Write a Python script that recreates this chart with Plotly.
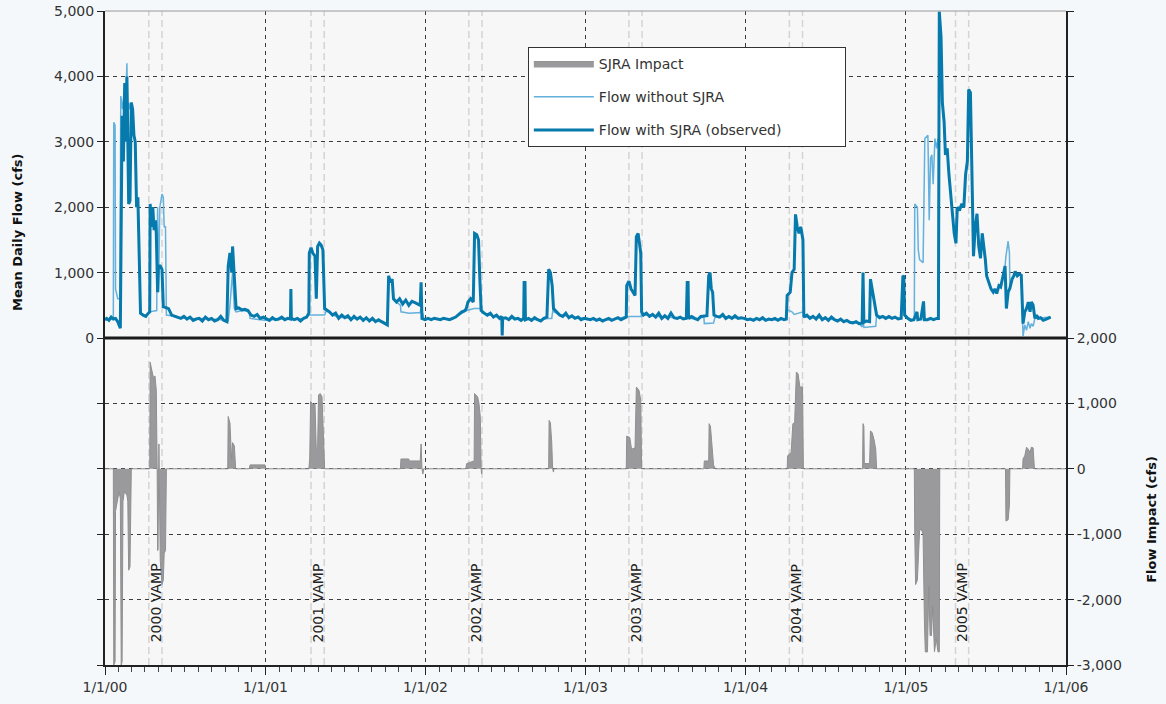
import plotly.graph_objects as go
import pandas as pd

# ---------------- data ----------------
OBSERVED = [
    ("2000-01-01",280),("2000-01-05",300),("2000-01-10",270),("2000-01-15",320),("2000-01-20",290),
    ("2000-01-25",300),("2000-01-30",250),("2000-02-05",150),("2000-02-09",3400),("2000-02-12",2700),
    ("2000-02-15",3900),("2000-02-18",3000),("2000-02-20",4000),("2000-02-22",3100),("2000-02-24",2050),
    ("2000-02-27",2100),("2000-03-01",3600),("2000-03-04",3500),("2000-03-07",3100),("2000-03-10",3000),
    ("2000-03-13",2000),("2000-03-16",2150),("2000-03-19",1300),("2000-03-22",380),("2000-03-28",350),
    ("2000-04-03",330),("2000-04-09",380),("2000-04-12",400),("2000-04-13",2050),("2000-04-16",1700),
    ("2000-04-19",2000),("2000-04-22",1650),("2000-04-25",1800),("2000-04-27",1600),("2000-04-30",700),
    ("2000-05-02",1100),("2000-05-06",1100),("2000-05-10",1050),("2000-05-13",480),("2000-05-18",470),
    ("2000-05-25",450),("2000-06-01",350),("2000-06-08",330),("2000-06-15",320),("2000-06-22",300),
    ("2000-06-29",330),("2000-07-06",290),("2000-07-13",320),("2000-07-20",270),("2000-07-27",290),
    ("2000-08-03",300),("2000-08-10",260),("2000-08-17",320),("2000-08-24",280),("2000-08-31",300),
    ("2000-09-07",260),("2000-09-14",280),("2000-09-21",330),("2000-09-28",270),("2000-10-05",250),
    ("2000-10-08",1100),("2000-10-12",1300),("2000-10-16",1000),("2000-10-18",1400),("2000-10-22",800),
    ("2000-10-26",450),("2000-11-01",460),("2000-11-08",430),("2000-11-15",440),("2000-11-22",420),
    ("2000-11-29",350),("2000-12-06",330),("2000-12-13",360),("2000-12-20",300),("2000-12-27",320),
    ("2001-01-03",300),("2001-01-10",270),("2001-01-17",310),("2001-01-24",280),("2001-01-31",290),
    ("2001-02-07",320),("2001-02-14",280),("2001-02-21",300),("2001-02-27",290),("2001-02-28",750),
    ("2001-03-01",300),("2001-03-08",280),("2001-03-15",300),("2001-03-22",260),("2001-03-29",300),
    ("2001-04-05",320),("2001-04-10",380),("2001-04-11",1300),("2001-04-15",1380),("2001-04-19",1300),
    ("2001-04-24",1250),("2001-04-27",600),("2001-04-30",1400),("2001-05-04",1450),("2001-05-08",1420),
    ("2001-05-12",1350),("2001-05-16",450),("2001-05-20",430),("2001-05-27",400),("2001-06-03",350),
    ("2001-06-10",380),("2001-06-17",300),("2001-06-24",350),("2001-07-01",310),("2001-07-08",340),
    ("2001-07-15",280),("2001-07-22",330),("2001-07-29",290),("2001-08-05",320),("2001-08-12",270),
    ("2001-08-19",310),("2001-08-26",260),("2001-09-02",300),("2001-09-09",250),("2001-09-16",280),
    ("2001-09-23",250),("2001-09-30",220),("2001-10-06",200),("2001-10-09",950),("2001-10-13",850),
    ("2001-10-17",900),("2001-10-20",600),("2001-10-27",550),("2001-11-03",600),("2001-11-10",520),
    ("2001-11-17",580),("2001-11-24",500),("2001-12-01",560),("2001-12-08",540),("2001-12-15",520),
    ("2001-12-20",500),("2001-12-22",850),("2001-12-24",300),("2001-12-31",280),
    ("2002-01-07",300),("2002-01-14",280),("2002-01-21",300),("2002-01-28",290),("2002-02-04",280),
    ("2002-02-11",300),("2002-02-18",290),("2002-02-25",280),("2002-03-04",300),("2002-03-11",320),
    ("2002-03-18",360),("2002-03-25",400),("2002-04-01",420),("2002-04-04",450),("2002-04-08",550),
    ("2002-04-14",600),("2002-04-20",550),("2002-04-23",1600),("2002-04-28",1580),("2002-05-02",1500),
    ("2002-05-05",900),("2002-05-08",420),("2002-05-15",380),("2002-05-22",350),("2002-05-29",380),
    ("2002-06-05",320),("2002-06-12",350),("2002-06-19",300),("2002-06-24",330),("2002-06-25",40),
    ("2002-06-26",300),("2002-07-03",310),("2002-07-10",280),("2002-07-17",330),("2002-07-24",290),
    ("2002-07-31",300),("2002-08-07",270),("2002-08-13",300),("2002-08-14",850),("2002-08-16",850),
    ("2002-08-17",280),("2002-08-24",300),("2002-08-31",270),("2002-09-07",310),("2002-09-14",280),
    ("2002-09-21",260),("2002-09-28",300),("2002-10-05",320),("2002-10-09",1050),("2002-10-13",1000),
    ("2002-10-17",800),("2002-10-20",450),("2002-10-27",400),("2002-11-03",350),("2002-11-10",330),
    ("2002-11-17",380),("2002-11-24",310),("2002-12-01",340),("2002-12-08",300),("2002-12-15",320),
    ("2002-12-22",280),("2002-12-29",300),
    ("2003-01-05",290),("2003-01-12",280),("2003-01-19",300),("2003-01-26",270),("2003-02-02",290),
    ("2003-02-09",260),("2003-02-16",280),("2003-02-23",300),("2003-03-02",270),("2003-03-09",290),
    ("2003-03-16",310),("2003-03-23",280),("2003-03-30",300),("2003-04-04",320),("2003-04-05",800),
    ("2003-04-10",870),("2003-04-15",750),("2003-04-20",700),("2003-04-24",650),("2003-04-27",1550),
    ("2003-05-01",1600),("2003-05-04",1450),("2003-05-07",1300),("2003-05-09",400),("2003-05-13",350),
    ("2003-05-20",380),("2003-05-27",330),("2003-06-03",360),("2003-06-10",320),("2003-06-17",380),
    ("2003-06-24",300),("2003-07-01",340),("2003-07-08",300),("2003-07-15",380),("2003-07-22",310),
    ("2003-07-29",300),("2003-08-05",320),("2003-08-12",290),("2003-08-19",300),("2003-08-21",850),
    ("2003-08-23",850),("2003-08-24",300),("2003-08-31",330),("2003-09-07",300),("2003-09-14",280),
    ("2003-09-21",330),("2003-09-28",330),("2003-10-05",340),("2003-10-09",950),("2003-10-12",1000),
    ("2003-10-15",750),("2003-10-18",700),("2003-10-21",350),("2003-10-27",330),("2003-11-03",320),
    ("2003-11-10",360),("2003-11-17",300),("2003-11-24",330),("2003-12-01",300),("2003-12-08",340),
    ("2003-12-15",300),("2003-12-22",310),("2003-12-29",300),
    ("2004-01-05",280),("2004-01-12",290),("2004-01-19",270),("2004-01-26",300),("2004-02-02",280),
    ("2004-02-09",310),("2004-02-16",270),("2004-02-23",290),("2004-03-01",280),("2004-03-08",300),
    ("2004-03-15",270),("2004-03-22",300),("2004-03-29",280),("2004-04-03",290),("2004-04-05",650),
    ("2004-04-12",700),("2004-04-16",1000),("2004-04-21",1050),("2004-04-24",1890),("2004-04-28",1700),
    ("2004-05-02",1600),("2004-05-06",1700),("2004-05-11",1500),("2004-05-13",320),("2004-05-20",350),
    ("2004-05-27",300),("2004-06-03",330),("2004-06-10",290),("2004-06-17",350),("2004-06-24",280),
    ("2004-07-01",310),("2004-07-08",270),("2004-07-15",320),("2004-07-22",280),("2004-07-29",260),
    ("2004-08-05",290),("2004-08-12",250),("2004-08-19",270),("2004-08-26",240),("2004-09-02",230),
    ("2004-09-09",250),("2004-09-16",220),("2004-09-23",230),("2004-09-25",1000),("2004-09-27",240),
    ("2004-10-03",260),("2004-10-10",250),("2004-10-12",900),("2004-10-15",780),("2004-10-19",650),
    ("2004-10-24",480),("2004-10-26",350),("2004-11-02",310),("2004-11-09",330),("2004-11-16",300),
    ("2004-11-23",330),("2004-11-30",300),("2004-12-07",320),("2004-12-14",290),("2004-12-21",300),
    ("2004-12-25",950),("2004-12-27",940),("2004-12-29",350),
    ("2005-01-05",300),("2005-01-12",270),("2005-01-19",280),("2005-01-26",400),("2005-01-28",280),
    ("2005-02-04",290),("2005-02-10",560),("2005-02-12",280),("2005-02-19",280),("2005-02-26",300),
    ("2005-03-05",280),("2005-03-12",300),("2005-03-16",300),("2005-03-18",4990),("2005-03-22",4600),
    ("2005-03-25",3600),("2005-03-29",3300),("2005-04-01",2800),("2005-04-05",2900),("2005-04-09",2500),
    ("2005-04-13",2150),("2005-04-17",1900),("2005-04-21",1600),("2005-04-25",1450),("2005-04-28",2000),
    ("2005-05-03",1950),("2005-05-08",2050),("2005-05-13",2000),("2005-05-17",2500),("2005-05-21",2700),
    ("2005-05-24",3800),("2005-05-28",3750),("2005-06-01",1900),("2005-06-04",1250),("2005-06-08",1700),
    ("2005-06-12",1900),("2005-06-16",1400),("2005-06-20",1220),("2005-06-24",1600),("2005-06-27",1450),
    ("2005-07-01",1200),("2005-07-04",950),("2005-07-09",850),("2005-07-14",750),("2005-07-19",700),
    ("2005-07-23",750),("2005-07-27",680),("2005-08-01",800),("2005-08-05",780),("2005-08-08",900),
    ("2005-08-12",1000),("2005-08-15",1100),("2005-08-18",450),("2005-08-22",700),("2005-08-26",760),
    ("2005-08-31",900),("2005-09-04",950),("2005-09-07",1020),("2005-09-12",950),("2005-09-17",980),
    ("2005-09-21",960),("2005-09-25",220),("2005-09-29",400),("2005-10-03",450),("2005-10-07",550),
    ("2005-10-11",400),("2005-10-14",550),("2005-10-18",500),("2005-10-22",300),("2005-10-26",350),
    ("2005-10-30",300),("2005-11-04",310),("2005-11-10",270),("2005-11-17",290),("2005-11-22",300),
    ("2005-11-27",320),
]

WITHOUT_SJRA = [
    ("2000-01-01",280),("2000-01-10",270),("2000-01-20",300),("2000-01-21",3300),("2000-01-24",3250),
    ("2000-01-25",750),("2000-01-30",600),("2000-02-04",600),("2000-02-06",3700),("2000-02-10",3500),
    ("2000-02-14",3800),("2000-02-17",3600),("2000-02-20",4200),("2000-02-22",3300),("2000-02-24",3600),
    ("2000-02-27",3500),("2000-03-01",3600),("2000-03-04",3500),("2000-03-07",3100),("2000-03-10",3000),
    ("2000-03-13",2000),("2000-03-16",2150),("2000-03-19",1300),("2000-03-22",380),("2000-04-01",340),
    ("2000-04-12",400),("2000-04-28",420),("2000-04-30",2000),("2000-05-02",700),("2000-05-05",2000),
    ("2000-05-10",2200),("2000-05-13",2150),("2000-05-15",1700),("2000-05-18",1700),("2000-05-20",350),
    ("2000-06-01",340),("2000-06-15",310),("2000-07-01",300),("2000-07-15",290),("2000-08-01",290),
    ("2000-08-15",300),("2000-09-01",280),("2000-09-15",290),("2000-10-01",260),("2000-10-08",260),
    ("2000-10-12",500),("2000-10-16",850),("2000-10-18",1000),("2000-10-22",450),("2000-10-26",400),
    ("2000-11-10",420),("2000-11-25",400),("2000-11-27",300),("2000-12-15",280),("2000-12-31",270),
    ("2001-01-15",280),("2001-02-01",290),("2001-02-15",290),("2001-02-27",290),("2001-02-28",750),
    ("2001-03-01",300),("2001-03-15",290),("2001-04-01",300),("2001-04-10",350),("2001-05-16",350),
    ("2001-05-20",420),("2001-06-01",360),("2001-06-15",320),("2001-07-01",310),("2001-07-15",300),
    ("2001-08-01",300),("2001-08-15",290),("2001-09-01",280),("2001-09-15",260),("2001-10-01",220),
    ("2001-10-06",200),("2001-10-09",950),("2001-10-13",850),("2001-10-17",900),("2001-10-20",600),
    ("2001-10-27",550),("2001-11-05",500),("2001-11-06",400),("2001-11-25",380),("2001-12-20",390),
    ("2001-12-22",470),("2001-12-24",300),("2001-12-26",380),("2001-12-28",290),
    ("2002-01-15",290),("2002-02-01",290),("2002-02-15",290),("2002-03-01",290),("2002-03-15",340),
    ("2002-04-01",400),("2002-04-05",420),("2002-04-22",450),("2002-05-06",450),("2002-05-08",420),
    ("2002-05-09",500),("2002-05-10",380),("2002-06-01",340),("2002-06-15",320),("2002-07-01",300),
    ("2002-07-15",300),("2002-08-01",290),("2002-08-13",290),("2002-08-14",850),("2002-08-16",850),
    ("2002-08-17",280),("2002-09-01",290),("2002-09-15",270),("2002-10-05",300),("2002-10-09",300),
    ("2002-10-16",300),("2002-10-18",450),("2002-10-20",500),("2002-10-21",400),("2002-11-01",360),
    ("2002-11-15",340),("2002-12-01",320),("2002-12-15",310),("2002-12-31",300),
    ("2003-01-15",285),("2003-02-01",280),("2003-02-15",280),("2003-03-01",280),("2003-03-15",300),
    ("2003-04-04",320),("2003-04-05",330),("2003-05-08",330),("2003-05-09",400),("2003-05-15",350),
    ("2003-06-01",350),("2003-06-15",330),("2003-07-01",320),("2003-07-15",320),("2003-08-01",310),
    ("2003-08-19",300),("2003-08-21",850),("2003-08-23",850),("2003-08-24",300),("2003-09-10",290),
    ("2003-09-28",320),("2003-09-29",220),("2003-10-20",230),("2003-10-24",330),("2003-11-10",330),
    ("2003-12-01",310),("2003-12-31",300),
    ("2004-01-15",285),("2004-02-01",285),("2004-02-15",280),("2004-03-01",285),("2004-03-15",280),
    ("2004-04-03",290),("2004-04-05",430),("2004-04-16",400),("2004-04-21",360),("2004-05-11",400),
    ("2004-05-13",320),("2004-06-01",320),("2004-06-15",310),("2004-07-01",300),("2004-07-15",290),
    ("2004-08-01",275),("2004-08-15",260),("2004-09-01",240),("2004-09-16",220),("2004-09-23",170),
    ("2004-09-25",310),("2004-09-27",160),("2004-10-10",170),("2004-10-24",180),("2004-10-26",350),
    ("2004-11-15",310),("2004-12-01",305),("2004-12-21",300),("2004-12-25",950),("2004-12-27",940),
    ("2004-12-29",350),
    ("2005-01-10",285),("2005-01-20",280),("2005-01-21",2050),("2005-01-27",2000),("2005-01-29",1350),
    ("2005-02-01",1200),("2005-02-09",1150),("2005-02-13",3050),("2005-02-20",3100),("2005-02-23",1800),
    ("2005-02-26",2750),("2005-03-01",2800),("2005-03-04",2350),("2005-03-08",3050),("2005-03-12",2900),
    ("2005-03-15",3050),("2005-03-17",3000),("2005-03-18",4990),("2005-03-22",4600),("2005-03-25",3600),
    ("2005-03-29",3300),("2005-04-01",2800),("2005-04-05",2900),("2005-04-09",2500),("2005-04-13",2150),
    ("2005-04-17",1900),("2005-04-21",1600),("2005-04-25",1450),("2005-04-28",2000),("2005-05-03",1950),
    ("2005-05-08",2050),("2005-05-13",2000),("2005-05-17",2500),("2005-05-21",2700),("2005-05-24",3800),
    ("2005-05-28",3750),("2005-06-01",1900),("2005-06-04",1250),("2005-06-08",1700),("2005-06-12",1900),
    ("2005-06-16",1400),("2005-06-20",1220),("2005-06-24",1600),("2005-06-27",1450),("2005-07-01",1200),
    ("2005-07-04",950),("2005-07-09",850),("2005-07-14",750),("2005-07-19",700),("2005-07-23",750),
    ("2005-07-27",680),("2005-08-01",800),("2005-08-05",780),("2005-08-08",900),("2005-08-12",1000),
    ("2005-08-15",1100),("2005-08-17",1250),("2005-08-22",1480),("2005-08-25",1300),("2005-08-26",760),
    ("2005-08-31",900),("2005-09-04",950),("2005-09-07",1020),("2005-09-12",950),("2005-09-17",980),
    ("2005-09-21",960),("2005-09-25",30),("2005-09-29",200),("2005-10-03",120),("2005-10-07",250),
    ("2005-10-11",150),("2005-10-14",220),("2005-10-18",180),("2005-10-22",300),("2005-11-04",310),
    ("2005-11-27",320),
]

SJRA_IMPACT = [
    ("2000-01-01",0),("2000-01-20",0),("2000-01-21",-3000),("2000-01-24",-2950),("2000-01-25",-650),
    ("2000-01-30",-450),("2000-02-02",-350),("2000-02-05",-450),("2000-02-07",-3000),("2000-02-09",-2950),
    ("2000-02-11",-500),("2000-02-14",-350),("2000-02-20",-400),("2000-02-22",-500),("2000-02-24",-1550),
    ("2000-02-27",-1500),("2000-03-01",0),("2000-04-12",0),("2000-04-13",1630),("2000-04-17",1500),
    ("2000-04-21",1380),("2000-04-24",1420),("2000-04-27",1200),("2000-04-29",0),("2000-04-30",-1250),
    ("2000-05-01",-1230),("2000-05-03",380),("2000-05-04",0),("2000-05-06",-1400),("2000-05-10",-1770),
    ("2000-05-13",-1700),("2000-05-15",-1290),("2000-05-18",-1250),("2000-05-20",0),("2000-10-07",0),
    ("2000-10-08",800),("2000-10-12",700),("2000-10-15",250),("2000-10-16",150),("2000-10-18",400),
    ("2000-10-22",350),("2000-10-25",0),("2000-11-25",0),("2000-11-27",60),("2000-12-31",60),
    ("2001-01-01",0),("2001-04-10",0),("2001-04-12",150),("2001-04-14",1030),("2001-04-20",980),
    ("2001-04-24",1000),("2001-04-27",280),("2001-04-30",300),("2001-05-02",1130),("2001-05-06",1150),
    ("2001-05-10",1100),("2001-05-14",300),("2001-05-16",0),("2001-11-05",0),("2001-11-06",150),
    ("2001-11-24",150),("2001-11-25",120),("2001-12-20",120),("2001-12-22",380),("2001-12-24",0),
    ("2001-12-26",-80),("2001-12-28",0),
    ("2002-04-03",0),("2002-04-05",80),("2002-04-22",120),("2002-04-23",1150),("2002-04-30",1100),
    ("2002-05-03",1000),("2002-05-06",800),("2002-05-08",0),("2002-05-09",-80),("2002-05-10",0),
    ("2002-10-09",0),("2002-10-10",740),("2002-10-13",700),("2002-10-16",400),("2002-10-18",0),
    ("2002-10-20",-50),("2002-10-21",0),
    ("2003-04-04",0),("2003-04-05",500),("2003-04-12",480),("2003-04-16",300),("2003-04-24",320),
    ("2003-04-27",1250),("2003-05-03",1200),("2003-05-07",1050),("2003-05-09",0),("2003-09-28",0),
    ("2003-09-29",120),("2003-10-09",120),("2003-10-10",690),("2003-10-13",650),("2003-10-16",400),
    ("2003-10-20",60),("2003-10-24",0),
    ("2004-04-05",0),("2004-04-06",200),("2004-04-14",250),("2004-04-18",690),("2004-04-22",700),
    ("2004-04-26",1480),("2004-04-30",1450),("2004-05-04",1250),("2004-05-10",1250),("2004-05-12",0),
    ("2004-09-24",0),("2004-09-25",690),("2004-09-27",650),("2004-09-28",80),("2004-10-10",80),
    ("2004-10-12",580),("2004-10-16",550),("2004-10-20",450),("2004-10-24",300),("2004-10-26",0),
    ("2005-01-20",0),("2005-01-21",-1000),("2005-01-23",-1770),("2005-01-27",-1700),("2005-01-29",-1250),
    ("2005-02-01",-950),("2005-02-05",-920),("2005-02-09",-1000),("2005-02-12",-2300),("2005-02-14",-2800),
    ("2005-02-19",-2800),("2005-02-22",-1800),("2005-02-25",-2550),("2005-02-28",-2550),("2005-03-03",-2100),
    ("2005-03-07",-2800),("2005-03-11",-2600),("2005-03-15",-2800),("2005-03-18",-2800),("2005-03-19",0),
    ("2005-08-16",0),("2005-08-17",-800),("2005-08-22",-780),("2005-08-25",-550),("2005-08-26",0),
    ("2005-09-24",0),("2005-09-25",150),("2005-09-29",200),("2005-10-03",330),("2005-10-07",300),
    ("2005-10-11",250),("2005-10-14",330),("2005-10-18",320),("2005-10-21",0),("2005-12-31",0),
]

SERIES_NAMES = ["SJRA Impact", "Flow without SJRA", "Flow with SJRA (observed)"]
YEAR_TICKS = ["2000-01-01", "2001-01-01", "2002-01-01", "2003-01-01", "2004-01-01", "2005-01-01", "2006-01-01"]
YEAR_LABELS = ["1/1/00", "1/1/01", "1/1/02", "1/1/03", "1/1/04", "1/1/05", "1/1/06"]
FLOW_TICKS = [0, 1000, 2000, 3000, 4000, 5000]
FLOW_LABELS = ["0", "1,000", "2,000", "3,000", "4,000", "5,000"]
IMPACT_TICKS = [-3000, -2000, -1000, 0, 1000, 2000]
IMPACT_LABELS = ["-3,000", "-2,000", "-1,000", "0", "1,000", "2,000"]
VAMP_START = ["2000-04-10", "2001-04-15", "2002-04-10", "2003-04-10", "2004-04-10", "2005-04-24"]
VAMP_END = ["2000-05-10", "2001-05-15", "2002-05-10", "2003-05-10", "2004-05-10", "2005-05-24"]
VAMP_LABELS = ["2000 VAMP", "2001 VAMP", "2002 VAMP", "2003 VAMP", "2004 VAMP", "2005 VAMP"]

# ---------------- figure ----------------
FONT = "DejaVu Sans, Verdana, sans-serif"
GRID = "#3c3c3c"
BG = "#f4f8fb"
PAD = "\u00a0" * 13   # widens the legend box to match the reference


def unzip(pairs):
    return [p[0] for p in pairs], [p[1] for p in pairs]


imp_x, imp_y = unzip(SJRA_IMPACT)
wo_x, wo_y = unzip(WITHOUT_SJRA)
ob_x, ob_y = unzip(OBSERVED)

fig = go.Figure()
fig.add_trace(go.Scatter(
    x=imp_x, y=imp_y, xaxis="x", yaxis="y2", mode="lines", fill="tozeroy",
    fillcolor="#9a9a9c", line=dict(color="#8f8f91", width=1),
    name=SERIES_NAMES[0], legendgroup="g1"))
fig.add_trace(go.Scatter(
    x=wo_x, y=wo_y, xaxis="x", yaxis="y", mode="lines",
    line=dict(color="#63b1dc", width=1.5),
    name=SERIES_NAMES[1], legendgroup="g2"))
fig.add_trace(go.Scatter(
    x=ob_x, y=ob_y, xaxis="x", yaxis="y", mode="lines",
    line=dict(color="#0679ad", width=3),
    name=SERIES_NAMES[2] + PAD, legendgroup="g3"))

shapes = []
for s, e in zip(VAMP_START, VAMP_END):
    for d in (s, e):
        shapes.append(dict(type="line", xref="x", yref="paper", x0=d, x1=d, y0=0, y1=1,
                           line=dict(color="#d4d4d4", width=1.5, dash="7px,4px"), layer="below"))
shapes.append(dict(type="line", xref="paper", yref="paper", x0=0, x1=1, y0=0.5, y1=0.5,
                   line=dict(color="#1a1a1a", width=3)))
shapes.append(dict(type="line", xref="paper", yref="paper", x0=0, x1=1, y0=1, y1=1,
                   line=dict(color="#9a9a9a", width=1)))

annotations = []
for s, e, lab in zip(VAMP_START, VAMP_END, VAMP_LABELS):
    mid = pd.Timestamp(s) + (pd.Timestamp(e) - pd.Timestamp(s)) / 2
    annotations.append(dict(x=mid.strftime("%Y-%m-%d"), xref="x", y=0.095, yref="paper",
                            xanchor="center", yanchor="middle",
                            text=lab, textangle=-90, showarrow=False,
                            font=dict(family=FONT, size=14, color="#222")))
annotations.append(dict(x=-0.0916, xref="paper", y=0.662, yref="paper",
                        xanchor="center", yanchor="middle",
                        text="<b>Mean Daily Flow (cfs)</b>", textangle=-90, showarrow=False,
                        font=dict(family=FONT, size=13, color="#111")))
annotations.append(dict(x=1.0895, xref="paper", y=0.222, yref="paper",
                        xanchor="center", yanchor="middle",
                        text="<b>Flow Impact (cfs)</b>", textangle=-90, showarrow=False,
                        font=dict(family=FONT, size=13, color="#111")))

fig.update_layout(
    width=1166, height=704,
    margin=dict(l=105, r=100, t=11, b=39, autoexpand=False),
    paper_bgcolor=BG, plot_bgcolor="#f7f7f7",
    font=dict(family=FONT, size=14, color="#333"),
    showlegend=True,
    legend=dict(x=0.44, y=0.945, xanchor="left", yanchor="top",
                bgcolor="white", bordercolor="#333", borderwidth=1,
                font=dict(family=FONT, size=14, color="#333"),
                tracegroupgap=12, itemwidth=60),
    xaxis=dict(type="date", range=["2000-01-01", "2006-01-01"], anchor="y2", automargin=False,
               tickmode="array", tickvals=YEAR_TICKS, ticktext=YEAR_LABELS,
               ticks="outside", ticklen=8, tickwidth=1, tickcolor="#222",
               showline=True, linecolor="#222", linewidth=2,
               showgrid=True, gridcolor=GRID, gridwidth=1, griddash="4px,4px",
               zeroline=False,
               minor=dict(dtick="M1", tick0="2000-01-01", ticks="outside", ticklen=5,
                          tickcolor="#444", tickwidth=1, showgrid=False),
               tickfont=dict(family=FONT, size=14, color="#333")),
    yaxis=dict(domain=[0.5, 1], range=[0, 5000], anchor="x", automargin=False,
               tickmode="array", tickvals=FLOW_TICKS, ticktext=FLOW_LABELS,
               ticks="outside", ticklen=6, tickcolor="#222",
               showline=True, linecolor="#222", linewidth=2, mirror="ticks",
               showgrid=True, gridcolor=GRID, gridwidth=1, griddash="4px,4px",
               zeroline=False, tickfont=dict(family=FONT, size=14, color="#333")),
    yaxis2=dict(domain=[0, 0.5], range=[-3000, 2000], anchor="x", side="right", automargin=False,
                tickmode="array", tickvals=IMPACT_TICKS, ticktext=IMPACT_LABELS,
                ticks="outside", ticklen=6, tickcolor="#222",
                showline=True, linecolor="#222", linewidth=2, mirror="ticks",
                showgrid=True, gridcolor=GRID, gridwidth=1, griddash="4px,4px",
                zeroline=False, tickfont=dict(family=FONT, size=14, color="#333")),
    shapes=shapes,
    annotations=annotations,
)

fig.write_html(
    "out.html",
    config={"displayModeBar": False},
    post_script="document.body.style.margin='0';document.body.style.background='%s';" % BG,
)
